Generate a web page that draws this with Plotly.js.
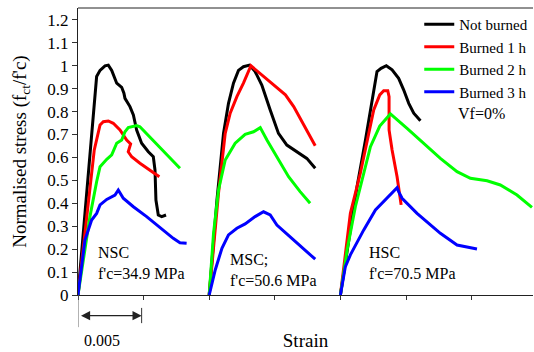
<!DOCTYPE html>
<html>
<head>
<meta charset="utf-8">
<script src="https://cdn.plot.ly/plotly-3.0.1.min.js"></script>
<style>html,body{margin:0;padding:0;background:#fff;}#chart{width:534px;height:352px;}</style>
</head>
<body>
<div id="chart"></div>
<script>
// ---- Data (strain measured from the start of each curve, normalised stress fct/f'c) ----
const groups = ['NSC', 'MSC', 'HSC'];
const groupLabels = ["NSC<br>f'c=34.9 MPa", "MSC;<br>f'c=50.6 MPa", "HSC<br>f'c=70.5 MPa"];
const strainShift = [0, 0.010, 0.020];   // each group drawn shifted along the strain axis
const conditions = ['Not burned', 'Burned 1 h', 'Burned 2 h', 'Burned 3 h'];
const colors = ['#000000', '#ff0000', '#00ff00', '#0000ff'];

// NSC
const nscNotX = [0, 0.00142, 0.00168, 0.00206, 0.00231, 0.00257, 0.00295, 0.00333, 0.0035, 0.00358, 0.00396, 0.00422, 0.00447, 0.00485, 0.00536, 0.00574, 0.00587, 0.00594, 0.00612, 0.00638, 0.00671];
const nscNotY = [0, 0.953, 0.98, 1.0, 1.003, 0.98, 0.924, 0.906, 0.88, 0.858, 0.822, 0.785, 0.72, 0.662, 0.625, 0.603, 0.545, 0.414, 0.349, 0.342, 0.349];
const nsc1hX = [0, 0.0008, 0.00124, 0.00168, 0.00193, 0.00231, 0.00269, 0.0032, 0.00371, 0.00401, 0.00383, 0.00409, 0.00472, 0.0062];
const nsc1hY = [0, 0.41, 0.633, 0.742, 0.756, 0.759, 0.749, 0.72, 0.676, 0.659, 0.625, 0.603, 0.575, 0.516];
const nsc2hX = [0, 0.0004, 0.00091, 0.00142, 0.00168, 0.00219, 0.00257, 0.00295, 0.00333, 0.00358, 0.00383, 0.00447, 0.00472, 0.00777];
const nsc2hY = [0, 0.16, 0.342, 0.494, 0.56, 0.592, 0.611, 0.662, 0.676, 0.712, 0.73, 0.739, 0.734, 0.553];
const nsc3hX = [0, 0.00053, 0.00104, 0.00142, 0.00168, 0.00219, 0.00282, 0.00307, 0.00345, 0.00422, 0.00523, 0.00726, 0.00777, 0.00828];
const nsc3hY = [0, 0.24, 0.327, 0.356, 0.393, 0.417, 0.436, 0.458, 0.422, 0.385, 0.342, 0.247, 0.228, 0.226];

// MSC
const mscNotX = [0, 0.00059, 0.00109, 0.00147, 0.00185, 0.00223, 0.00261, 0.00307, 0.0035, 0.00401, 0.00465, 0.00528, 0.00592, 0.00668, 0.00744, 0.00808];
const mscNotY = [0, 0.414, 0.705, 0.836, 0.924, 0.98, 0.996, 1.003, 0.975, 0.916, 0.807, 0.705, 0.654, 0.625, 0.596, 0.553];
const msc1hX = [0, 0.00071, 0.00122, 0.0016, 0.00211, 0.00261, 0.00318, 0.00401, 0.0049, 0.00581, 0.00644, 0.00737, 0.00808];
const msc1hY = [0, 0.444, 0.705, 0.793, 0.865, 0.924, 1.0, 0.96, 0.916, 0.873, 0.822, 0.727, 0.651];
const msc2hX = [0, 0.00033, 0.00071, 0.00122, 0.00198, 0.00274, 0.00338, 0.00389, 0.0044, 0.00528, 0.00605, 0.00693, 0.00769];
const msc2hY = [0, 0.269, 0.458, 0.589, 0.662, 0.701, 0.712, 0.73, 0.676, 0.589, 0.516, 0.451, 0.4];
const msc3hX = [0, 0.00046, 0.00097, 0.00147, 0.00211, 0.00274, 0.0035, 0.00414, 0.00465, 0.00516, 0.00617, 0.00719, 0.00808];
const msc3hY = [0, 0.109, 0.204, 0.262, 0.291, 0.31, 0.342, 0.363, 0.349, 0.305, 0.254, 0.204, 0.156];

// HSC
const hscNotX = [0, 0.00063, 0.00127, 0.00191, 0.00241, 0.00279, 0.0031, 0.0035, 0.00394, 0.00444, 0.00482, 0.00521, 0.00559, 0.0061];
const hscNotY = [0, 0.24, 0.473, 0.676, 0.836, 0.975, 0.989, 1.0, 0.982, 0.945, 0.895, 0.836, 0.793, 0.76];
const hsc1hX = [0, 0.00076, 0.00152, 0.00203, 0.00254, 0.003, 0.0033, 0.00361, 0.00371, 0.00371, 0.00394, 0.00432, 0.00463];
const hsc1hY = [0, 0.356, 0.531, 0.676, 0.807, 0.873, 0.891, 0.891, 0.865, 0.72, 0.633, 0.516, 0.393];
const hsc2hX = [0, 0.00051, 0.00114, 0.00178, 0.00229, 0.003, 0.00343, 0.00381, 0.00508, 0.00635, 0.00762, 0.00889, 0.00991, 0.01118, 0.01219, 0.01346, 0.0146];
const hsc2hY = [0, 0.196, 0.385, 0.531, 0.647, 0.737, 0.767, 0.79, 0.727, 0.662, 0.596, 0.538, 0.509, 0.498, 0.48, 0.436, 0.382];
const hsc3hX = [0, 0.00038, 0.00076, 0.00178, 0.00267, 0.0033, 0.00432, 0.00444, 0.0047, 0.00584, 0.00762, 0.00889, 0.00965, 0.01041];
const hsc3hY = [0, 0.124, 0.175, 0.284, 0.371, 0.407, 0.468, 0.451, 0.422, 0.356, 0.269, 0.218, 0.208, 0.201];

const yTickVals = [0, 0.1, 0.2, 0.3, 0.4, 0.5, 0.6, 0.7, 0.8, 0.9, 1, 1.1, 1.2];
const yTickText = ['0', '0.1', '0.2', '0.3', '0.4', '0.5', '0.6', '0.7', '0.8', '0.9', '1', '1.1', '1.2'];
const scaleBarStrain = 0.005;
const scaleBarLabel = '0.005';
const noteText = 'Vf=0%';

const curves = [
  [[nscNotX, nscNotY], [nsc1hX, nsc1hY], [nsc2hX, nsc2hY], [nsc3hX, nsc3hY]],
  [[mscNotX, mscNotY], [msc1hX, msc1hY], [msc2hX, msc2hY], [msc3hX, msc3hY]],
  [[hscNotX, hscNotY], [hsc1hX, hsc1hY], [hsc2hX, hsc2hY], [hsc3hX, hsc3hY]]
];

const FONT = 'Liberation Serif';
const traces = [];
groups.forEach((g, gi) => {
  conditions.forEach((c, ci) => {
    const [xs, ys] = curves[gi][ci];
    traces.push({
      type: 'scatter', mode: 'lines',
      x: xs.map(v => v + strainShift[gi]), y: ys,
      name: c, legendgroup: c, showlegend: gi === 0,
      line: {color: colors[ci], width: 3},
      hoverinfo: 'skip'
    });
  });
});

const labelPos = [[0.040, 0.112], [0.330, 0.087], [0.635, 0.110]];
const annotations = groups.map((g, gi) => ({
  text: groupLabels[gi], xref: 'paper', yref: 'paper',
  x: labelPos[gi][0], y: labelPos[gi][1], xanchor: 'left', yanchor: 'middle',
  align: 'left', showarrow: false, font: {family: FONT, size: 16, color: '#000'}
}));
annotations.push({
  text: noteText, xref: 'paper', yref: 'paper', x: 0.831, y: 0.634,
  xanchor: 'left', yanchor: 'middle', showarrow: false,
  font: {family: FONT, size: 16, color: '#000'}
});
// scale bar (double arrow) below the axis
annotations.push({
  text: ' ', xref: 'x', yref: 'paper', x: scaleBarStrain * 0.97, y: -0.072,
  axref: 'x', ayref: 'pixel', ax: 0, ay: 0,
  showarrow: true, arrowhead: 2, startarrowhead: 2, arrowside: 'end+start',
  arrowsize: 1.4, startarrowsize: 1.4, arrowwidth: 1.3, arrowcolor: '#222', standoff: 0, startstandoff: 0
});
annotations.push({
  text: scaleBarLabel, xref: 'x', yref: 'paper', x: scaleBarStrain * 0.37, y: -0.16,
  xanchor: 'center', yanchor: 'middle', showarrow: false,
  font: {family: FONT, size: 16, color: '#000'}
});

const layout = {
  width: 534, height: 352,
  margin: {l: 78, r: 1, t: 8, b: 57},
  paper_bgcolor: '#fff', plot_bgcolor: '#fff',
  showlegend: true,
  legend: {x: 0.75, y: 1.0, xanchor: 'left', yanchor: 'top',
           font: {family: FONT, size: 15, color: '#000'},
           bgcolor: 'rgba(0,0,0,0)', tracegroupgap: 0},
  xaxis: {
    range: [0, 0.03468], tick0: 0, dtick: 0.005, ticks: 'outside', ticklen: 4,
    tickcolor: '#333', showticklabels: false, showline: true, linecolor: '#222',
    linewidth: 1, showgrid: false, zeroline: false,
    title: {text: 'Strain', font: {family: FONT, size: 19, color: '#000'}, standoff: 34}
  },
  yaxis: {
    range: [0, 1.252], tickvals: yTickVals, ticktext: yTickText, ticks: 'outside', ticklen: 5,
    tickcolor: '#333', showline: true, linecolor: '#222', linewidth: 1,
    showgrid: false, zeroline: false,
    tickfont: {family: FONT, size: 17, color: '#000'},
    title: {text: "Normalised stress (f<sub>ct</sub>/f'c)", font: {family: FONT, size: 19, color: '#000'}, standoff: 15}
  },
  shapes: [
    {type: 'line', xref: 'paper', yref: 'paper', x0: 0, x1: 1, y0: 1, y1: 1, line: {color: '#222', width: 1}},
    {type: 'line', xref: 'x', yref: 'paper', x0: 0, x1: 0, y0: 0, y1: -0.112, line: {color: '#666', width: 1}},
    {type: 'line', xref: 'x', yref: 'paper', x0: scaleBarStrain * 0.97, x1: scaleBarStrain * 0.97, y0: -0.045, y1: -0.098, line: {color: '#333', width: 1}}
  ],
  annotations: annotations
};

Plotly.newPlot('chart', traces, layout, {displayModeBar: false, staticPlot: true});
</script>
</body>
</html>
